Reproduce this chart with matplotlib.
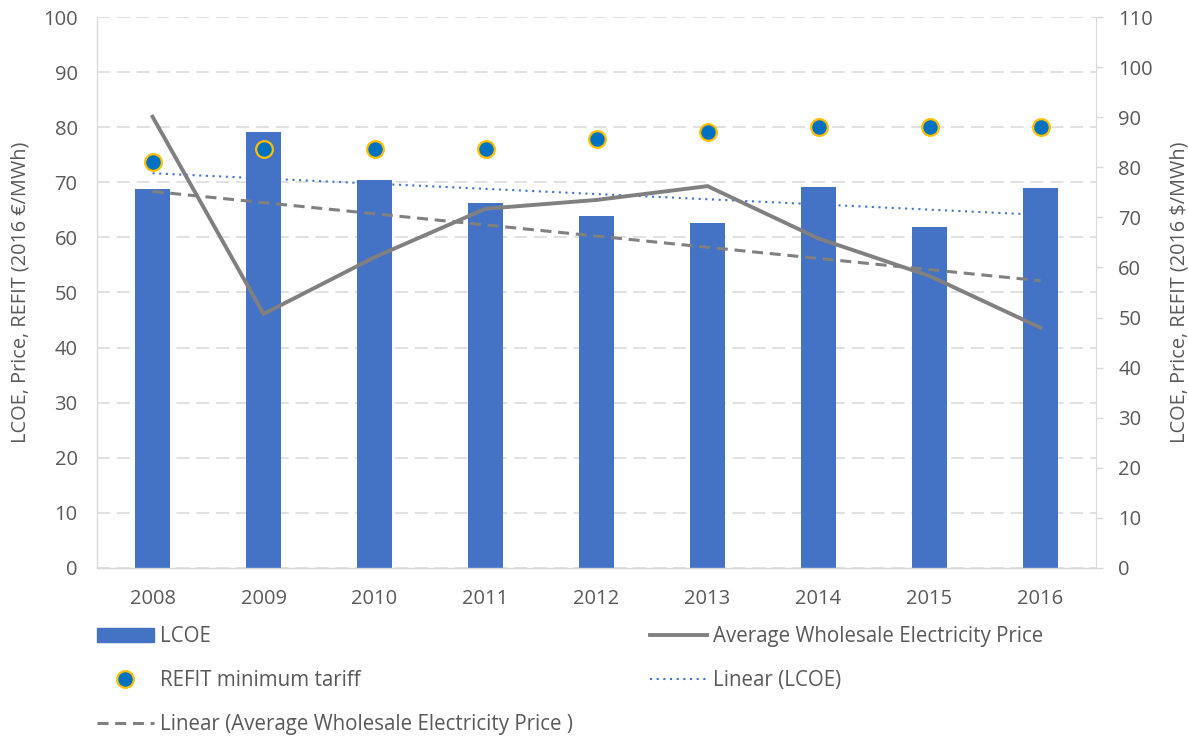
import numpy as np
import matplotlib.pyplot as plt
from matplotlib.lines import Line2D
from matplotlib.patches import Patch

plt.rcParams['font.family'] = ['Open Sans', 'DejaVu Sans']

# values (2016 EUR/MWh)
years = ['2008', '2009', '2010', '2011', '2012', '2013', '2014', '2015', '2016']
lcoe = [68.7, 79.1, 70.4, 66.2, 63.8, 62.6, 69.1, 61.9, 69.0]
price = [81.9, 46.1, 56.4, 65.2, 66.8, 69.3, 59.8, 53.0, 43.6]
refit = [73.6, 76.1, 76.1, 76.1, 77.8, 79.1, 80.0, 80.0, 80.0]

blue = '#4472C4'
gray = '#808080'
txt = '#595959'
grid = '#D9D9D9'

x = np.arange(len(years))

# linear trend lines as Excel draws them
lcoe_fit = np.polyval(np.polyfit(x, lcoe, 1), x)
price_fit = np.polyval(np.polyfit(x, price, 1), x)

fig = plt.figure(figsize=(11.88, 7.36), dpi=100)
ax = fig.add_axes([0.0817, 0.2283, 0.9226 - 0.0817, 0.9769 - 0.2283])

ax.plot(x, lcoe_fit, color=blue, lw=1.5, linestyle=(0, (1, 2.2)), zorder=1)
ax.bar(x, lcoe, width=0.315, color=blue, zorder=2)
ax.plot(x, price_fit, color=gray, lw=2.2, linestyle=(0, (3.6, 2.2)), zorder=3)
ax.plot(x, price, color=gray, lw=2.8, zorder=4, solid_joinstyle='miter')
ax.plot(x, refit, 'o', ms=12, mfc='#0070C0', mec='#FFC000', mew=1.6,
        linestyle='none', zorder=5)

ax.set_xlim(-0.5, len(years) - 0.5)
ax.set_ylim(0, 100)
ax.set_yticks(np.arange(0, 101, 10))
ax.set_xticks(x)
ax.set_xticklabels(years)
ax.yaxis.grid(True, color=grid, lw=1.1, linestyle=(0, (8.5, 4.5)))
ax.set_axisbelow(True)
ax.tick_params(axis='y', length=0, pad=14, labelsize=14.5, labelcolor=txt)
ax.tick_params(axis='x', length=0, pad=15, labelsize=14.5, labelcolor=txt)
for s in ['top', 'right']:
    ax.spines[s].set_visible(False)
for s in ['left', 'bottom']:
    ax.spines[s].set_color(grid)
    ax.spines[s].set_linewidth(1.0)
ax.set_ylabel('LCOE, Price, REFIT (2016 €/MWh)', fontsize=14.3, color=txt, labelpad=9)

ax2 = ax.twinx()
ax2.set_ylim(0, 110)
ax2.set_yticks(np.arange(0, 111, 10))
for s in ['top', 'left', 'bottom']:
    ax2.spines[s].set_visible(False)
ax2.spines['right'].set_color(grid)
ax2.tick_params(axis='y', length=5, width=1, color=grid, pad=11,
                labelsize=14.5, labelcolor=txt)
ax2.set_ylabel('LCOE, Price, REFIT (2016 $/MWh)', fontsize=14.3, color=txt, labelpad=12)

# legend in two columns placed like the original
h_lcoe = Patch(color=blue)
h_refit = Line2D([], [], marker='o', ms=12, mfc='#0070C0', mec='#FFC000', mew=1.6, linestyle='none')
h_pfit = Line2D([], [], color=gray, lw=2.2, linestyle=(0, (3.6, 2.2)))
h_price = Line2D([], [], color=gray, lw=2.8)
h_lfit = Line2D([], [], color=blue, lw=1.5, linestyle=(0, (1, 2.2)))

leg_kw = dict(frameon=False, fontsize=14.8, labelcolor=txt, handlelength=2.75,
              handletextpad=0.33, labelspacing=1.13, borderpad=0, borderaxespad=0,
              loc='upper left')
leg1 = fig.legend([h_lcoe, h_refit, h_pfit],
                  ['LCOE', 'REFIT minimum tariff', 'Linear (Average Wholesale Electricity Price )'],
                  bbox_to_anchor=(97 / 1188, 1 - 626 / 736), **leg_kw)
leg2 = fig.legend([h_price, h_lfit],
                  ['Average Wholesale Electricity Price', 'Linear (LCOE)'],
                  bbox_to_anchor=(650 / 1188, 1 - 626 / 736), **leg_kw)

fig.savefig('out.png', dpi=100)
